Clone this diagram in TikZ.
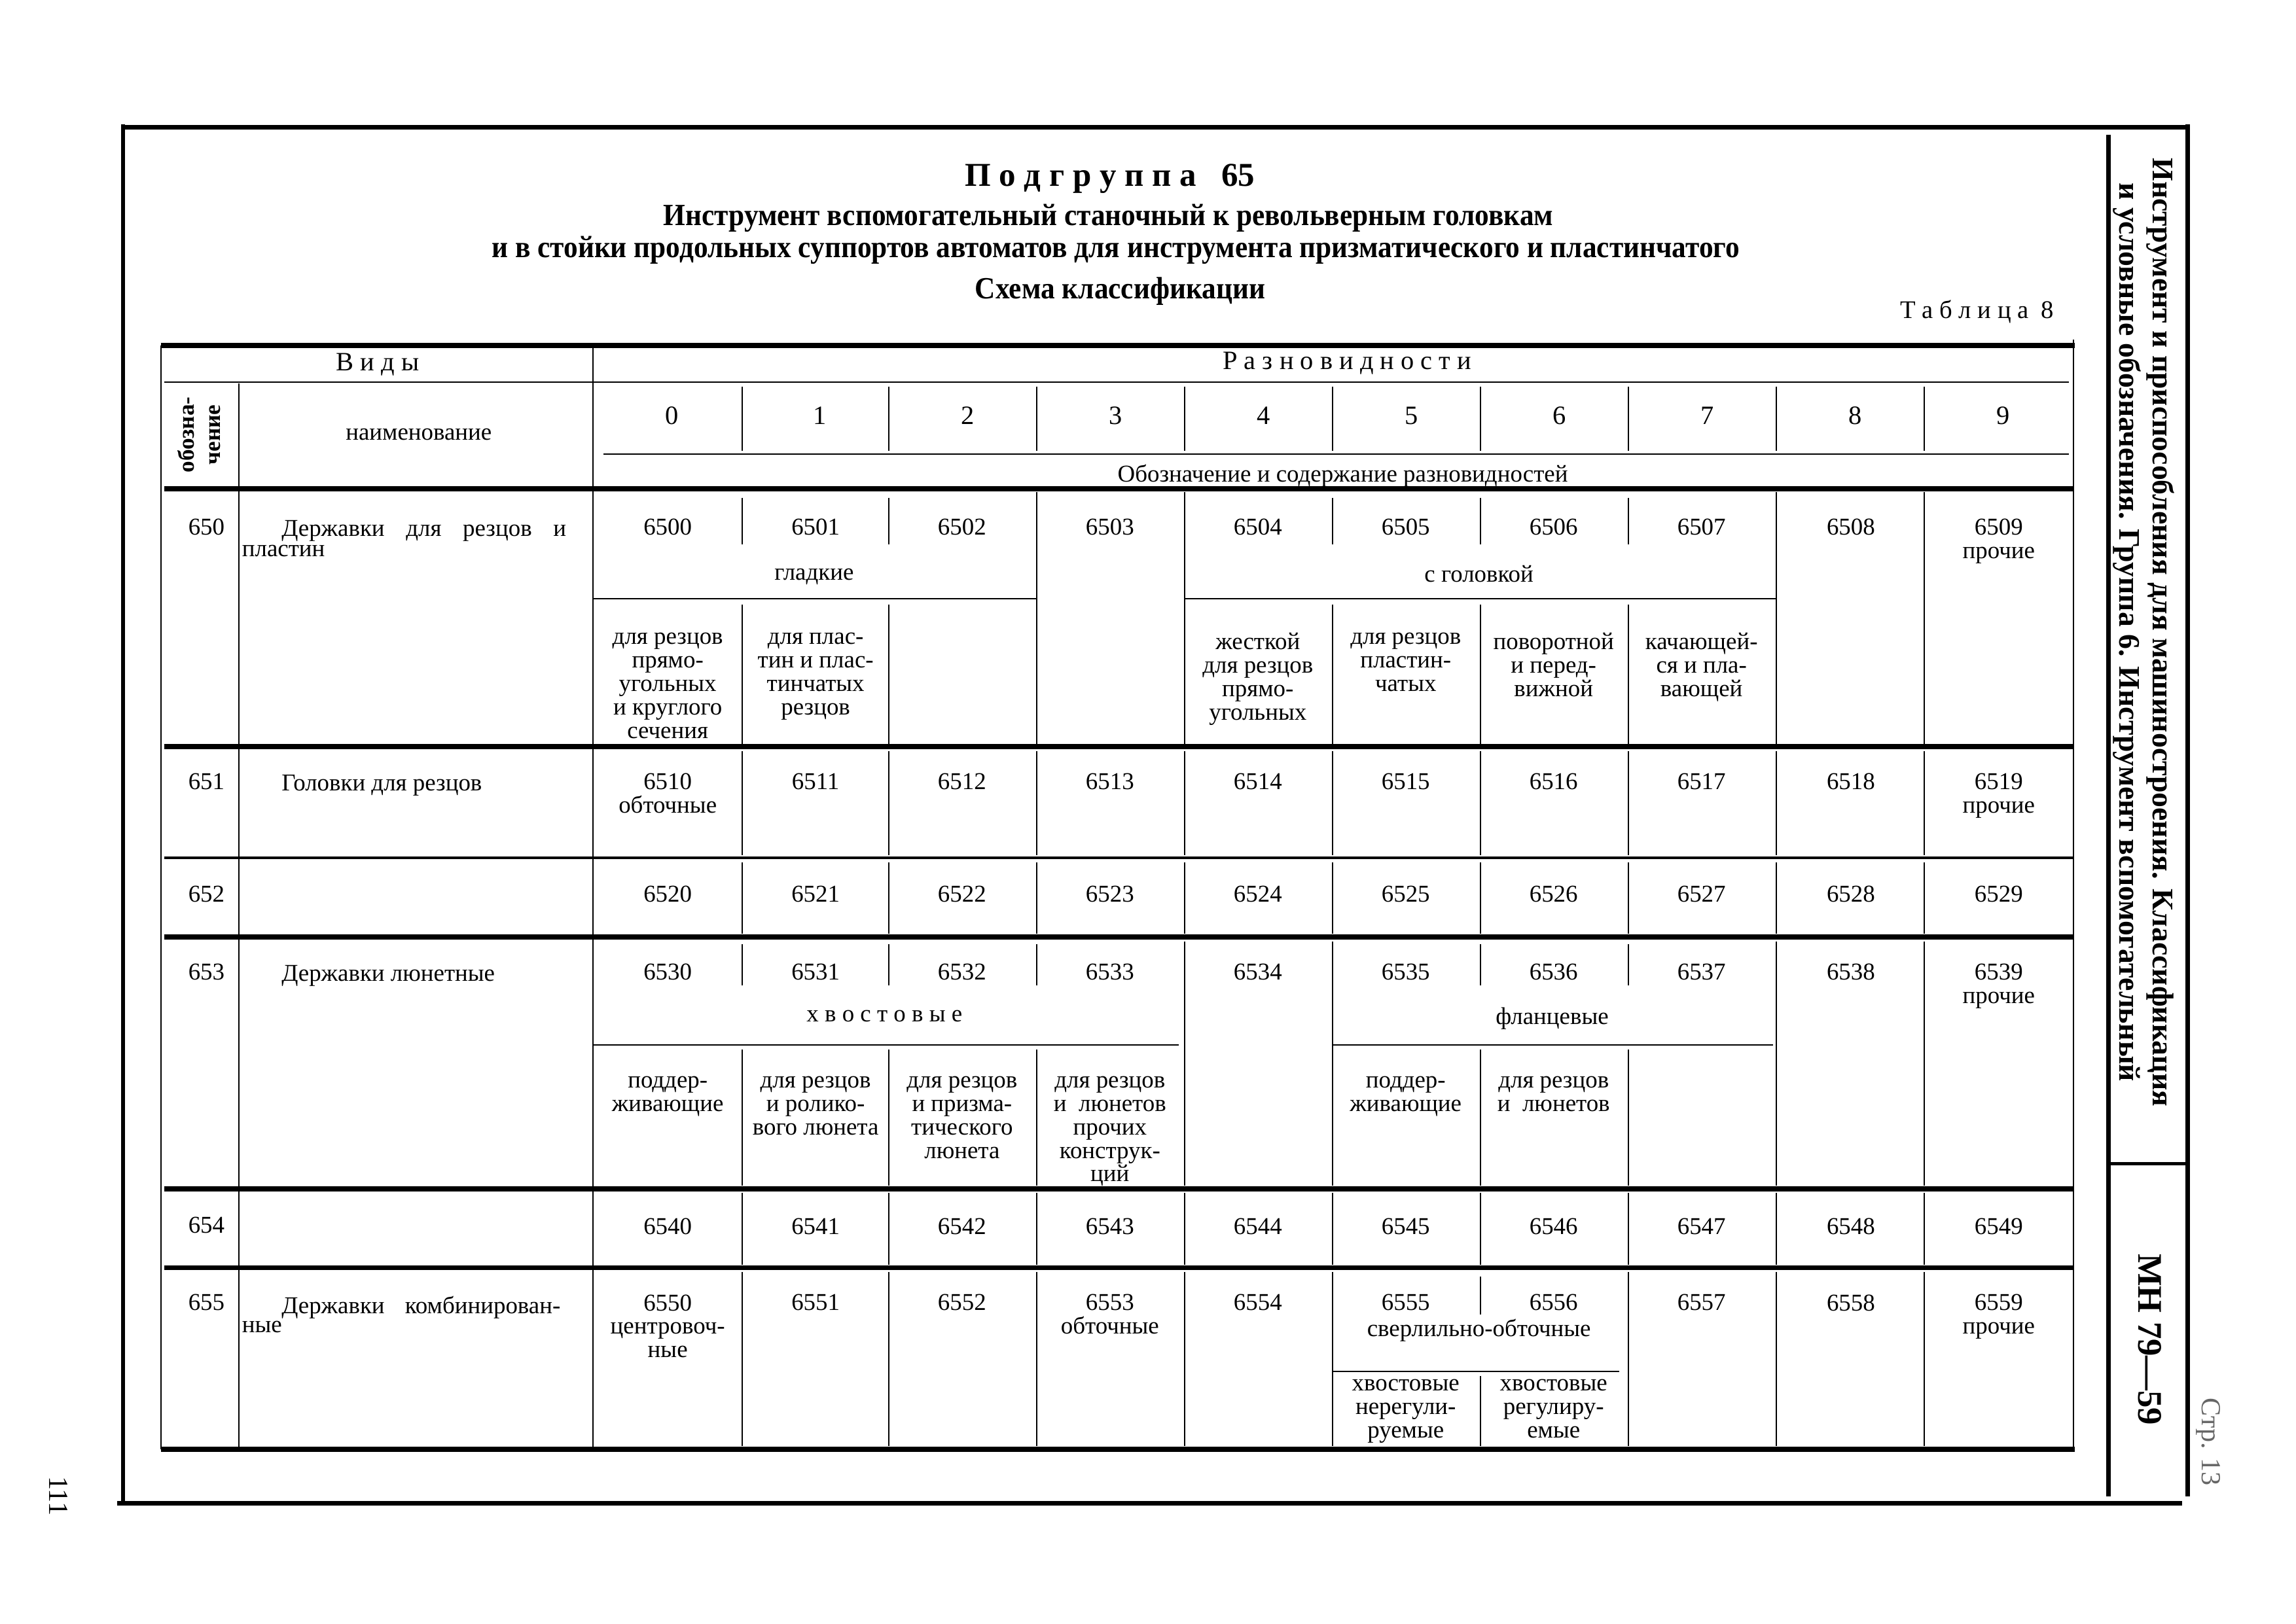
\documentclass[tikz,border=0pt]{standalone}
\usepackage{fontspec}
\setmainfont{Liberation Serif}
\newfontfamily\narrowserif{Liberation Serif}[FakeStretch=0.92]
\newcommand\tf{\fontsize{10.5}{10.2}\selectfont}
\newcommand\ttlf{\narrowserif\fontsize{13.4}{15}\selectfont\bfseries}
\begin{document}
\begin{tikzpicture}[x=0.022372cm,y=-0.022372cm,
  thk/.style={line width=2.2pt},
  thn/.style={line width=0.6pt},
  mid/.style={line width=1.1pt},
  frm/.style={line width=1.6pt},
  cell/.style={inner sep=0pt, align=center, font=\tf, anchor=north},
  lcell/.style={inner sep=0pt, align=left, font=\tf, anchor=north west},
  ttl/.style={inner sep=0pt, align=center, font=\ttlf},
  side/.style={inner sep=0pt, align=center, rotate=-90}]
\useasboundingbox (0,0) rectangle (1568,1109);
\fill[white] (0,0) rectangle (1568,1109);
% ---- outer frame ----
\draw[frm] (84,85) -- (84,1028);
\draw[line width=2pt] (84,87) -- (1495,87);
\draw[line width=2pt] (80,1027) -- (1490,1027);
\draw[line width=2pt] (1440,92) -- (1440,1022);
\draw[line width=2.2pt] (1494,85) -- (1494,1022);
\draw[line width=1.6pt] (1440,795) -- (1494,795);
% ---- side texts ----
\node[side, font=\fontsize{13}{14.6}\selectfont\bfseries] (sidet) at (1464,432)
 {Инструмент и приспособления для машиностроения. Классификация\\и условные обозначения. Группа 6. Инструмент вспомогательный};
\node[side, font=\fontsize{15}{17}\selectfont\bfseries] (mn) at (1468,915) {МН 79—59};
\node[side, font=\fontsize{12}{14}\selectfont, text=black!60] (str) at (1508,985) {Стр. 13};
\node[side, font=\fontsize{12}{14}\selectfont] (pg) at (40,1022) {111};
% ---- titles ----
\node[ttl, font=\fontsize{14.5}{16}\selectfont\bfseries] (t0) at (758,122) {П о д г р у п п а \ \ 65};
\node[ttl] (t1) at (757,149) {Инструмент вспомогательный станочный к револьверным головкам};
\node[ttl] (t2) at (762,171) {и в стойки продольных суппортов автоматов для инструмента призматического и пластинчатого};
\node[ttl] (t3) at (765,199) {Схема классификации};
\node[inner sep=0pt, anchor=east, font=\fontsize{11}{13}\selectfont] (tab) at (1403,213) {Т а б л и ц а \ 8};
% ---- table frame ----
\draw[thk] (110,236) -- (1417,236);
\draw[thn] (110,236) -- (110,990);
\draw[thn] (1416,232) -- (1416,990);
\draw[thn] (405,236) -- (405,990);
\draw[thn] (112,261) -- (1413,261);
\draw[thn] (163,262) -- (163,990);
\foreach \x in {507,607,708,809,910,1011,1112,1213,1314} \draw[thn] (\x,264) -- (\x,308);
\draw[thn] (412,310) -- (1413,310);
\draw[thk] (112,334) -- (1416,334);
% row 650
\foreach \x in {708,809,1213,1314} \draw[thn] (\x,336) -- (\x,508);
\foreach \x in {507,607,910,1011,1112} \draw[thn] (\x,340) -- (\x,372);
\draw[thn] (405,409) -- (708,409);
\draw[thn] (809,409) -- (1213,409);
\foreach \x in {507,607,910,1011,1112} \draw[thn] (\x,413) -- (\x,508);
\draw[thk] (112,510) -- (1416,510);
% row 651, 652
\foreach \x in {507,607,708,809,910,1011,1112,1213,1314} \draw[thn] (\x,513) -- (\x,584);
\draw[mid] (112,586) -- (1416,586);
\foreach \x in {507,607,708,809,910,1011,1112,1213,1314} \draw[thn] (\x,589) -- (\x,638);
\draw[thk] (112,640) -- (1416,640);
% row 653
\foreach \x in {809,910,1213,1314} \draw[thn] (\x,643) -- (\x,810);
\foreach \x in {507,607,708,1011,1112} \draw[thn] (\x,645) -- (\x,673);
\draw[thn] (405,714) -- (805,714);
\draw[thn] (910,714) -- (1211,714);
\foreach \x in {507,607,708,1011,1112} \draw[thn] (\x,717) -- (\x,810);
\draw[thk] (112,812) -- (1416,812);
% row 654
\foreach \x in {507,607,708,809,910,1011,1112,1213,1314} \draw[thn] (\x,815) -- (\x,864);
\draw[thk] (112,866) -- (1416,866);
% row 655
\foreach \x in {507,607,708,809,910,1112,1213,1314} \draw[thn] (\x,869) -- (\x,988);
\draw[thn] (1011,872) -- (1011,898);
\draw[thn] (910,937) -- (1106,937);
\draw[thn] (1011,940) -- (1011,988);
\draw[thk] (110,990) -- (1417,990);
% ---- header texts ----
\node[cell, anchor=center, font=\fontsize{11.5}{13}\selectfont] (vidy) at (258,249) {В и д ы};
\node[cell, anchor=center, font=\fontsize{11.5}{13}\selectfont] (razn) at (920,248) {Р а з н о в и д н о с т и};
\foreach \d/\x in {0/459,1/560,2/661,3/762,4/863,5/964,6/1065,7/1166,8/1267,9/1368}
  \node[cell, anchor=center, font=\fontsize{11.5}{13}\selectfont] (dig\d) at (\x,284) {\d};
\node[cell, anchor=center, rotate=90, font=\fontsize{10}{11.5}\selectfont\bfseries] (oboz) at (136,297) {обозна-\\чение};
\node[cell, anchor=center] (naim) at (286,297) {наименование};
\node[cell, anchor=center] (soder) at (917,325) {Обозначение и содержание разновидностей};
% ---- row 650 ----
\node[cell] (k650) at (141,354) {650};
\node[lcell] (n650a) at (192,355) {\makebox[123.7pt][s]{Державки для резцов и}};
\node[lcell] (n650b) at (165,372) {пластин};
\foreach \c/\x in {6500/456,6501/557,6502/657,6503/758,6504/859,6505/960,6506/1061,6507/1162,6508/1264}
  \node[cell] (c\c) at (\x,354) {\c};
\node[cell] (c6509) at (1365,354) {6509\\прочие};
\node[cell] (gl) at (556,388) {гладкие};
\node[cell] (sgol) at (1010,386) {с головкой};
\node[cell] (s6500) at (456,432) {для резцов\\прямо-\\угольных\\и круглого\\сечения};
\node[cell] (s6501) at (557,432) {для плас-\\тин и плас-\\тинчатых\\резцов};
\node[cell] (s6504) at (859,432) {жесткой\\для резцов\\прямо-\\угольных};
\node[cell] (s6505) at (960,432) {для резцов\\пластин-\\чатых};
\node[cell] (s6506) at (1061,432) {поворотной\\и перед-\\вижной};
\node[cell] (s6507) at (1162,432) {качающей-\\ся и пла-\\вающей};
% ---- row 651 ----
\node[cell] (k651) at (141,528) {651};
\node[lcell] (n651) at (192,529) {Головки для резцов};
\node[cell] (c6510) at (456,528) {6510\\обточные};
\foreach \c/\x in {6511/557,6512/657,6513/758,6514/859,6515/960,6516/1061,6517/1162,6518/1264}
  \node[cell] (c\c) at (\x,528) {\c};
\node[cell] (c6519) at (1365,528) {6519\\прочие};
% ---- row 652 ----
\node[cell] (k652) at (141,605) {652};
\foreach \c/\x in {6520/456,6521/557,6522/657,6523/758,6524/859,6525/960,6526/1061,6527/1162,6528/1264,6529/1365}
  \node[cell] (c\c) at (\x,605) {\c};
% ---- row 653 ----
\node[cell] (k653) at (141,658) {653};
\node[lcell] (n653) at (192,659) {Державки люнетные};
\foreach \c/\x in {6530/456,6531/557,6532/657,6533/758,6534/859,6535/960,6536/1061,6537/1162,6538/1264}
  \node[cell] (c\c) at (\x,658) {\c};
\node[cell] (c6539) at (1365,658) {6539\\прочие};
\node[cell] (hvost) at (604,690) {х в о с т о в ы е};
\node[cell] (flan) at (1060,688) {фланцевые};
\node[cell] (s6530) at (456,735) {поддер-\\живающие};
\node[cell] (s6531) at (557,735) {для резцов\\и ролико-\\вого люнета};
\node[cell] (s6532) at (657,735) {для резцов\\и призма-\\тического\\люнета};
\node[cell] (s6533) at (758,735) {для резцов\\и \ люнетов\\прочих\\конструк-\\ций};
\node[cell] (s6535) at (960,735) {поддер-\\живающие};
\node[cell] (s6536) at (1061,735) {для резцов\\и \ люнетов};
% ---- row 654 ----
\node[cell] (k654) at (141,831) {654};
\foreach \c/\x in {6540/456,6541/557,6542/657,6543/758,6544/859,6545/960,6546/1061,6547/1162,6548/1264,6549/1365}
  \node[cell] (c\c) at (\x,832) {\c};
% ---- row 655 ----
\node[cell] (k655) at (141,884) {655};
\node[lcell] (n655a) at (192,885) {\makebox[121.2pt][s]{Державки комбинирован-}};
\node[lcell] (n655b) at (165,902) {ные};
\node[cell] (c6550) at (456,884) {6550\\центровоч-\\ные};
\foreach \c/\x in {6551/557,6552/657,6554/859,6555/960,6556/1061,6557/1162,6558/1264}
  \node[cell] (c\c) at (\x,884) {\c};
\node[cell] (c6553) at (758,884) {6553\\обточные};
\node[cell] (c6559) at (1365,884) {6559\\прочие};
\node[cell] (sverl) at (1010,901) {сверлильно-обточные};
\node[cell] (s6555) at (960,942) {хвостовые\\нерегули-\\руемые};
\node[cell] (s6556) at (1061,942) {хвостовые\\регулиру-\\емые};
\end{tikzpicture}
\end{document}
